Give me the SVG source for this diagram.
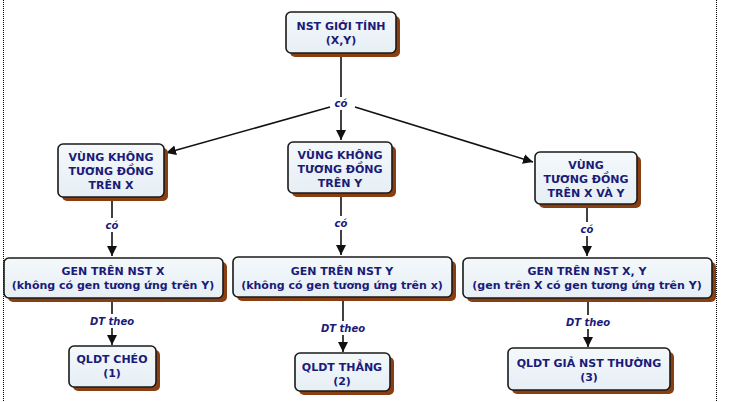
<svg xmlns="http://www.w3.org/2000/svg" width="746" height="402" viewBox="0 0 746 402">
<defs>
<marker id="ah" viewBox="0 0 10 10" refX="10" refY="5" markerWidth="10" markerHeight="10" markerUnits="userSpaceOnUse" orient="auto">
<path d="M0,0 L10,5 L0,10 z" fill="#111"/>
</marker>
<linearGradient id="bg" x1="0" y1="0" x2="0" y2="1">
<stop offset="0" stop-color="#f4f8fb"/>
<stop offset="1" stop-color="#e6eff5"/>
</linearGradient>
</defs>
<style>
.sh{fill:#8a3f12;}
.bx{fill:url(#bg);stroke:#1a1a1a;stroke-width:1.6;}
.t{font-family:"DejaVu Sans",Verdana,sans-serif;font-weight:bold;font-size:11px;fill:#1b1b78;text-anchor:middle;dominant-baseline:central;}
.l{font-family:"DejaVu Sans",Verdana,sans-serif;font-weight:bold;font-style:italic;font-size:10px;fill:#1b1b78;text-anchor:middle;dominant-baseline:central;}
.c{stroke:#111;stroke-width:1.6;fill:none;}
.ca{stroke:#111;stroke-width:1.6;fill:none;marker-end:url(#ah);}
.bd{stroke:#000;stroke-width:1;stroke-dasharray:1 1;fill:none;}
</style>
<rect width="746" height="402" fill="#fff"/>
<line class="bd" x1="3.5" y1="0" x2="3.5" y2="402"/>
<line class="bd" x1="716.5" y1="0" x2="716.5" y2="402"/>

<g id="connectors">
<line class="c" x1="341" y1="53" x2="341" y2="97"/>
<text class="l" x="341" y="103">có</text>
<line class="ca" x1="341" y1="110" x2="341" y2="140"/>
<line class="ca" x1="330" y1="107" x2="166" y2="153"/>
<line class="ca" x1="355" y1="107" x2="533" y2="162"/>

<line class="c" x1="112" y1="197" x2="112" y2="218"/>
<text class="l" x="112" y="225">có</text>
<line class="ca" x1="112" y1="232" x2="112" y2="256"/>
<line class="c" x1="341" y1="193" x2="341" y2="216"/>
<text class="l" x="341" y="223">có</text>
<line class="ca" x1="341" y1="230" x2="341" y2="255"/>
<line class="c" x1="587" y1="204" x2="587" y2="222"/>
<text class="l" x="587" y="229">có</text>
<line class="ca" x1="587" y1="236" x2="587" y2="256"/>

<line class="c" x1="112" y1="298" x2="112" y2="314"/>
<text class="l" x="112" y="321">DT theo</text>
<line class="ca" x1="112" y1="328" x2="112" y2="345"/>
<line class="c" x1="343" y1="297" x2="343" y2="321"/>
<text class="l" x="343" y="328">DT theo</text>
<line class="ca" x1="343" y1="335" x2="343" y2="352"/>
<line class="c" x1="588" y1="298" x2="588" y2="315"/>
<text class="l" x="588" y="322">DT theo</text>
<line class="ca" x1="588" y1="329" x2="588" y2="347"/>
</g>

<g id="n-root">
<rect class="sh" x="290" y="16" width="110" height="41" rx="5"/>
<rect class="bx" x="286" y="12" width="110" height="41" rx="5"/>
<text class="t" x="341" y="26">NST GIỚI TÍNH</text>
<text class="t" x="341" y="40">(X,Y)</text>
</g>

<g id="n-kx">
<rect class="sh" x="62" y="148" width="106" height="53" rx="5"/>
<rect class="bx" x="58" y="144" width="106" height="53" rx="5"/>
<text class="t" x="111" y="157">VÙNG KHÔNG</text>
<text class="t" x="111" y="171">TƯƠNG ĐỒNG</text>
<text class="t" x="111" y="185">TRÊN X</text>
</g>

<g id="n-ky">
<rect class="sh" x="292" y="146" width="104" height="51" rx="5"/>
<rect class="bx" x="288" y="142" width="104" height="51" rx="5"/>
<text class="t" x="340" y="155">VÙNG KHÔNG</text>
<text class="t" x="340" y="169">TƯƠNG ĐỒNG</text>
<text class="t" x="340" y="183">TRÊN Y</text>
</g>

<g id="n-xy">
<rect class="sh" x="539" y="156" width="102" height="52" rx="5"/>
<rect class="bx" x="535" y="152" width="102" height="52" rx="5"/>
<text class="t" x="586" y="165">VÙNG</text>
<text class="t" x="586" y="179">TƯƠNG ĐỒNG</text>
<text class="t" x="586" y="193">TRÊN X VÀ Y</text>
</g>

<g id="n-genx">
<rect class="sh" x="8" y="262" width="219" height="40" rx="5"/>
<rect class="bx" x="4" y="258" width="219" height="40" rx="5"/>
<text class="t" x="113" y="271">GEN TRÊN NST X</text>
<text class="t" x="113" y="285">(không có gen tương ứng trên Y)</text>
</g>

<g id="n-geny">
<rect class="sh" x="237" y="261" width="219" height="40" rx="5"/>
<rect class="bx" x="233" y="257" width="219" height="40" rx="5"/>
<text class="t" x="342" y="271">GEN TRÊN NST Y</text>
<text class="t" x="342" y="285">(không có gen tương ứng trên x)</text>
</g>

<g id="n-genxy">
<rect class="sh" x="467" y="262" width="249" height="40" rx="5"/>
<rect class="bx" x="463" y="258" width="249" height="40" rx="5"/>
<text class="t" x="587" y="271">GEN TRÊN NST X, Y</text>
<text class="t" x="587" y="285">(gen trên X có gen tương ứng trên Y)</text>
</g>

<g id="n-cheo">
<rect class="sh" x="73" y="350" width="87" height="41" rx="5"/>
<rect class="bx" x="69" y="346" width="87" height="41" rx="5"/>
<text class="t" x="112" y="359">QLDT CHÉO</text>
<text class="t" x="112" y="373">(1)</text>
</g>

<g id="n-thang">
<rect class="sh" x="299" y="357" width="95" height="38" rx="5"/>
<rect class="bx" x="295" y="353" width="95" height="38" rx="5"/>
<text class="t" x="342" y="367">QLDT THẲNG</text>
<text class="t" x="342" y="381">(2)</text>
</g>

<g id="n-gia">
<rect class="sh" x="512" y="352" width="162" height="42" rx="5"/>
<rect class="bx" x="508" y="348" width="162" height="42" rx="5"/>
<text class="t" x="589" y="363">QLDT GIẢ NST THƯỜNG</text>
<text class="t" x="589" y="377">(3)</text>
</g>
</svg>
